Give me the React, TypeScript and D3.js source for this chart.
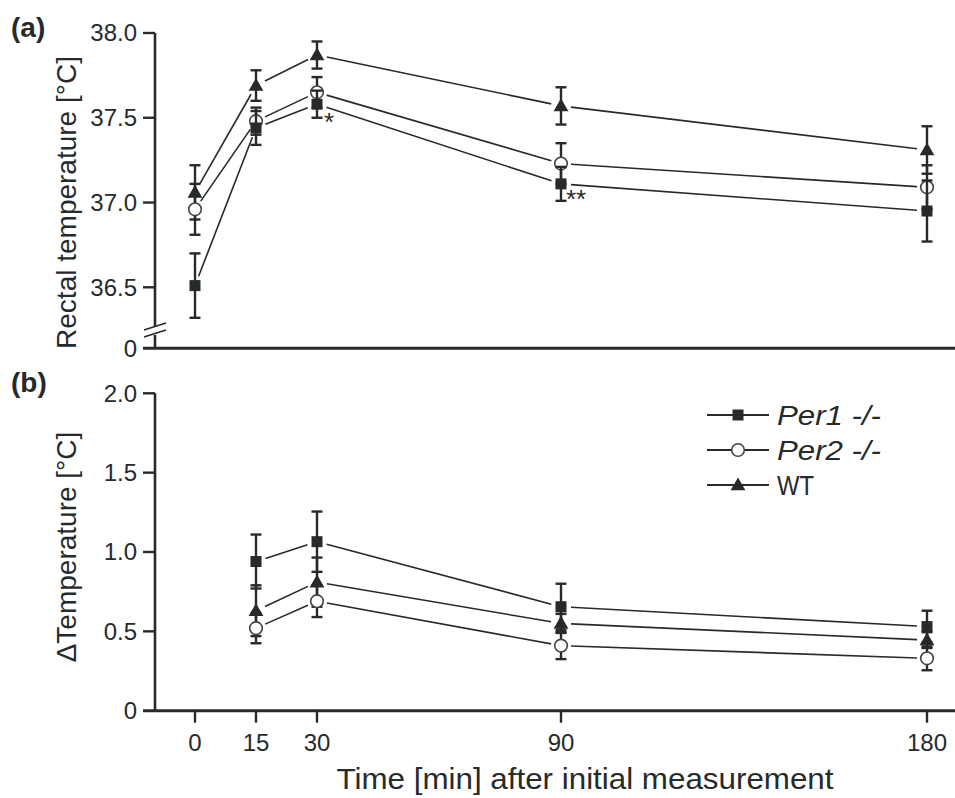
import React from "react";
import * as d3 from "d3";

const times = [0, 15, 30, 90, 180];
const rectalPer1 = [36.51, 37.44, 37.58, 37.11, 36.95];
const rectalPer1Err = [0.19, 0.1, 0.08, 0.1, 0.18];
const rectalPer2 = [36.96, 37.48, 37.65, 37.23, 37.09];
const rectalPer2Err = [0.15, 0.08, 0.09, 0.12, 0.13];
const rectalWT = [37.06, 37.69, 37.87, 37.57, 37.31];
const rectalWTErr = [0.16, 0.09, 0.08, 0.11, 0.14];

const deltaTimes = [15, 30, 90, 180];
const deltaPer1 = [0.94, 1.065, 0.655, 0.53];
const deltaPer1Err = [0.17, 0.19, 0.145, 0.1];
const deltaPer2 = [0.52, 0.69, 0.41, 0.33];
const deltaPer2Err = [0.095, 0.1, 0.085, 0.075];
const deltaWT = [0.63, 0.81, 0.55, 0.445];
const deltaWTErr = [0.16, 0.155, 0.06, 0.05];

const xTicks = [0, 15, 30, 90, 180];
const rectalTicks = [36.5, 37.0, 37.5, 38.0];
const deltaTicks = [0, 0.5, 1.0, 1.5, 2.0];
const legendNames = ["Per1 -/-", "Per2 -/-", "WT"];

const INK = "#262a2b";
const FONT = "'Liberation Sans', Arial, sans-serif";

const x = d3.scaleLinear().domain([0, 180]).range([195, 927]);
const yA = d3.scaleLinear().domain([36.5, 38]).range([287.3, 33]);
const yB = d3.scaleLinear().domain([0, 2]).range([710.7, 393.3]);

type Shape = "square" | "circle" | "triangle";

function Marker({ cx, cy, shape }: { cx: number; cy: number; shape: Shape }) {
  if (shape === "square") {
    return <rect x={cx - 5.5} y={cy - 5.5} width={11} height={11} fill={INK} />;
  }
  if (shape === "circle") {
    return <circle cx={cx} cy={cy} r={6.3} fill="#fff" stroke="#444" strokeWidth={1.6} />;
  }
  const p = d3.symbol().type(d3.symbolTriangle).size(95)();
  return <path d={p || ""} transform={`translate(${cx},${cy + 1})`} fill={INK} />;
}

function Series({ xs, vs, es, y, shape }: { xs: number[]; vs: number[]; es: number[]; y: d3.ScaleLinear<number, number>; shape: Shape }) {
  const pts = xs.map((t, i) => [x(t), y(vs[i])] as [number, number]);
  const gap = 10;
  const segs = [] as JSX.Element[];
  for (let i = 0; i < pts.length - 1; i++) {
    const [x1, y1] = pts[i];
    const [x2, y2] = pts[i + 1];
    const dx = x2 - x1, dy = y2 - y1;
    const L = Math.hypot(dx, dy);
    const ux = dx / L, uy = dy / L;
    segs.push(
      <line key={"s" + i} x1={x1 + ux * gap} y1={y1 + uy * gap} x2={x2 - ux * gap} y2={y2 - uy * gap} stroke={INK} strokeWidth={1.6} />
    );
  }
  return (
    <g>
      {segs}
      {xs.map((t, i) => {
        const cx = x(t);
        const top = y(vs[i] + es[i]);
        const bot = y(vs[i] - es[i]);
        return (
          <g key={"e" + i} stroke={INK} strokeWidth={2.4}>
            <line x1={cx} x2={cx} y1={top} y2={bot} />
            <line x1={cx - 5.5} x2={cx + 5.5} y1={top} y2={top} />
            <line x1={cx - 5.5} x2={cx + 5.5} y1={bot} y2={bot} />
          </g>
        );
      })}
      {pts.map(([cx, cy], i) => (
        <Marker key={"m" + i} cx={cx} cy={cy} shape={shape} />
      ))}
    </g>
  );
}

export default function App() {
  const axA = 348.3;
  const axB = 710.7;
  const yAxisX = 155;
  return (
    <svg width={955} height={798} style={{ position: "absolute", left: 0, top: 0, background: "#fff" }} fontFamily={FONT}>
      <rect x={0} y={0} width={955} height={798} fill="#fff" />
      {/* Panel labels */}
      <text x={11} y={37} fontSize={28} fontWeight="bold" fill={INK}>(a)</text>
      <text x={11} y={392} fontSize={28} fontWeight="bold" fill={INK}>(b)</text>

      {/* Panel A axes */}
      <g stroke={INK}>
        <line x1={yAxisX} x2={yAxisX} y1={yA(38)} y2={327} strokeWidth={2.6} />
        <line x1={yAxisX} x2={yAxisX} y1={335} y2={axA} strokeWidth={2.6} />
        <line x1={144} x2={166} y1={330} y2={323} strokeWidth={1.8} />
        <line x1={144} x2={166} y1={337} y2={330} strokeWidth={1.8} />
        <line x1={143} x2={955} y1={axA} y2={axA} strokeWidth={3} />
        {rectalTicks.map((t) => (
          <line key={t} x1={143} x2={yAxisX} y1={yA(t)} y2={yA(t)} strokeWidth={2.4} />
        ))}
      </g>
      {rectalTicks.map((t) => (
        <text key={t} x={137} y={yA(t)} dy="0.35em" textAnchor="end" fontSize={24} fill={INK}>
          {d3.format(".1f")(t)}
        </text>
      ))}
      <text x={137} y={axA} dy="0.35em" textAnchor="end" fontSize={24} fill={INK}>0</text>
      <text transform={`translate(76,${(33 + 348) / 2 + 12}) rotate(-90)`} textAnchor="middle" fontSize={28} fill={INK}>
        Rectal temperature [°C]
      </text>

      <Series xs={times} vs={rectalWT} es={rectalWTErr} y={yA} shape="triangle" />
      <Series xs={times} vs={rectalPer2} es={rectalPer2Err} y={yA} shape="circle" />
      <Series xs={times} vs={rectalPer1} es={rectalPer1Err} y={yA} shape="square" />
      <text x={x(30) + 7} y={yA(rectalPer1[2]) + 27} fontSize={26} fill={INK}>*</text>
      <text x={x(90) + 5} y={yA(rectalPer1[3]) + 24} fontSize={26} fill={INK}>**</text>

      {/* Panel B axes */}
      <g stroke={INK}>
        <line x1={yAxisX} x2={yAxisX} y1={yB(2)} y2={axB} strokeWidth={2.6} />
        <line x1={143} x2={955} y1={axB} y2={axB} strokeWidth={3} />
        {deltaTicks.filter((t) => t > 0).map((t) => (
          <line key={t} x1={143} x2={yAxisX} y1={yB(t)} y2={yB(t)} strokeWidth={2.4} />
        ))}
        {xTicks.map((t) => (
          <line key={t} x1={x(t)} x2={x(t)} y1={axB} y2={axB + 12} strokeWidth={2.4} />
        ))}
      </g>
      {deltaTicks.map((t) => (
        <text key={t} x={137} y={yB(t)} dy="0.35em" textAnchor="end" fontSize={24} fill={INK}>
          {t === 0 ? "0" : d3.format(".1f")(t)}
        </text>
      ))}
      {xTicks.map((t) => (
        <text key={t} x={x(t)} y={axB + 40} textAnchor="middle" fontSize={24} fill={INK}>
          {t}
        </text>
      ))}
      <text x={585} y={789} textAnchor="middle" fontSize={30} textLength={497} lengthAdjust="spacingAndGlyphs" fill={INK}>
        Time [min] after initial measurement
      </text>
      <text transform={`translate(76,${(393 + 711) / 2 - 5}) rotate(-90)`} textAnchor="middle" fontSize={28} fill={INK}>
        ΔTemperature [°C]
      </text>

      <Series xs={deltaTimes} vs={deltaWT} es={deltaWTErr} y={yB} shape="triangle" />
      <Series xs={deltaTimes} vs={deltaPer2} es={deltaPer2Err} y={yB} shape="circle" />
      <Series xs={deltaTimes} vs={deltaPer1} es={deltaPer1Err} y={yB} shape="square" />

      {/* Legend */}
      {legendNames.map((name, i) => {
        const ly = 415 + i * 35;
        const shape: Shape = i === 0 ? "square" : i === 1 ? "circle" : "triangle";
        return (
          <g key={name}>
            <line x1={707} x2={769} y1={ly} y2={ly} stroke={INK} strokeWidth={1.8} />
            <Marker cx={738} cy={ly} shape={shape} />
            <text
              x={777}
              y={ly}
              dy="0.36em"
              fontSize={27}
              fontStyle={i < 2 ? "italic" : "normal"}
              textLength={i < 2 ? 104 : 37}
              lengthAdjust="spacingAndGlyphs"
              fill={INK}
            >
              {name}
            </text>
          </g>
        );
      })}
    </svg>
  );
}
